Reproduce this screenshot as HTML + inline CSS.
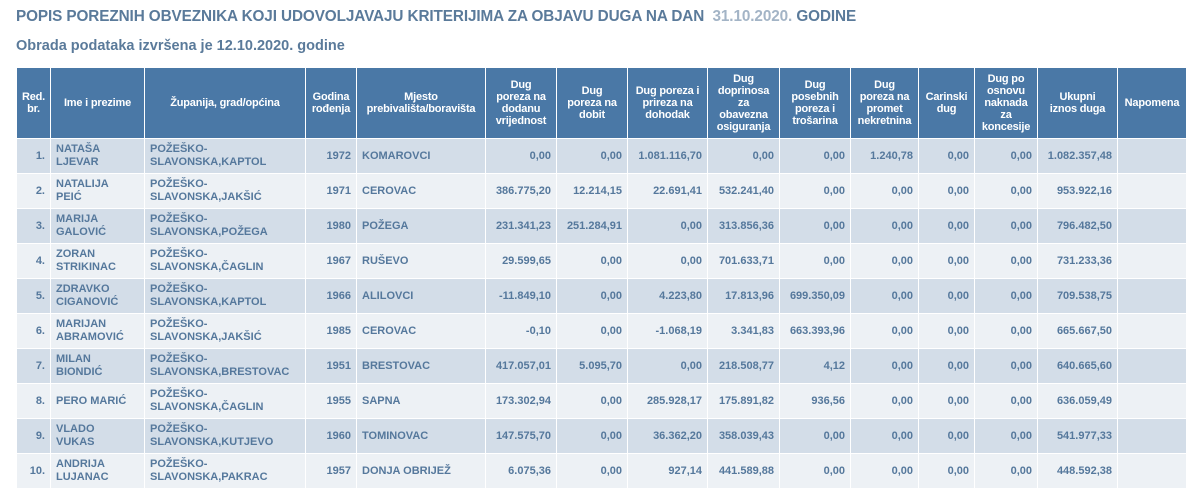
<!DOCTYPE html>
<html><head><meta charset="utf-8"><style>
body{margin:0;width:1200px;height:489px;overflow:hidden;background:#fff;font-family:"Liberation Sans",Arial,sans-serif;}
.t1{position:absolute;left:16px;top:8px;font-size:15.3px;font-weight:bold;color:#5a7a9a;white-space:nowrap;letter-spacing:-0.1px}
.t1 span{color:#a3b4c6}
.t2{position:absolute;left:16px;top:38px;font-size:14.5px;font-weight:bold;color:#5a7a9a;white-space:nowrap}
table{position:absolute;left:16px;top:67px;border-collapse:collapse;table-layout:fixed;width:1170px}
th{background:#4a78a6;color:#fff;font-size:11px;font-weight:bold;height:70px;border:1px solid #fff;padding:0 1px;line-height:12px;text-align:center;white-space:nowrap;letter-spacing:-0.2px}
td{font-size:11px;color:#55789c;font-weight:bold;height:34px;border:1px solid #fff;padding:0 5px;line-height:13px;white-space:nowrap}
tr.o td{background:#d3dde8}tr.e td{background:#edf1f5}
.r{text-align:right}
</style></head><body>
<div class="t1">POPIS POREZNIH OBVEZNIKA KOJI UDOVOLJAVAJU KRITERIJIMA ZA OBJAVU DUGA NA DAN &nbsp;<span>31.10.2020.</span> GODINE</div>
<div class="t2">Obrada podataka izvršena je 12.10.2020. godine</div>
<table>
<colgroup><col style="width:34px"><col style="width:94px"><col style="width:161px"><col style="width:51px"><col style="width:129px"><col style="width:71px"><col style="width:71px"><col style="width:80px"><col style="width:72px"><col style="width:71px"><col style="width:68px"><col style="width:56px"><col style="width:63px"><col style="width:80px"><col style="width:69px"></colgroup>
<tr><th>Red.<br>br.</th><th>Ime i prezime</th><th>Županija, grad/općina</th><th>Godina<br>rođenja</th><th>Mjesto<br>prebivališta/boravišta</th><th>Dug<br>poreza na<br>dodanu<br>vrijednost</th><th>Dug<br>poreza na<br>dobit</th><th>Dug poreza i<br>prireza na<br>dohodak</th><th>Dug<br>doprinosa<br>za<br>obavezna<br>osiguranja</th><th>Dug<br>posebnih<br>poreza i<br>trošarina</th><th>Dug<br>poreza na<br>promet<br>nekretnina</th><th>Carinski<br>dug</th><th>Dug po<br>osnovu<br>naknada<br>za<br>koncesije</th><th>Ukupni<br>iznos duga</th><th>Napomena</th></tr>
<tr class="o"><td class="r">1.</td><td>NATAŠA<br>LJEVAR</td><td>POŽEŠKO-<br>SLAVONSKA,KAPTOL</td><td class="r">1972</td><td>KOMAROVCI</td><td class="r">0,00</td><td class="r">0,00</td><td class="r">1.081.116,70</td><td class="r">0,00</td><td class="r">0,00</td><td class="r">1.240,78</td><td class="r">0,00</td><td class="r">0,00</td><td class="r">1.082.357,48</td><td></td></tr>
<tr class="e"><td class="r">2.</td><td>NATALIJA<br>PEIĆ</td><td>POŽEŠKO-<br>SLAVONSKA,JAKŠIĆ</td><td class="r">1971</td><td>CEROVAC</td><td class="r">386.775,20</td><td class="r">12.214,15</td><td class="r">22.691,41</td><td class="r">532.241,40</td><td class="r">0,00</td><td class="r">0,00</td><td class="r">0,00</td><td class="r">0,00</td><td class="r">953.922,16</td><td></td></tr>
<tr class="o"><td class="r">3.</td><td>MARIJA<br>GALOVIĆ</td><td>POŽEŠKO-<br>SLAVONSKA,POŽEGA</td><td class="r">1980</td><td>POŽEGA</td><td class="r">231.341,23</td><td class="r">251.284,91</td><td class="r">0,00</td><td class="r">313.856,36</td><td class="r">0,00</td><td class="r">0,00</td><td class="r">0,00</td><td class="r">0,00</td><td class="r">796.482,50</td><td></td></tr>
<tr class="e"><td class="r">4.</td><td>ZORAN<br>STRIKINAC</td><td>POŽEŠKO-<br>SLAVONSKA,ČAGLIN</td><td class="r">1967</td><td>RUŠEVO</td><td class="r">29.599,65</td><td class="r">0,00</td><td class="r">0,00</td><td class="r">701.633,71</td><td class="r">0,00</td><td class="r">0,00</td><td class="r">0,00</td><td class="r">0,00</td><td class="r">731.233,36</td><td></td></tr>
<tr class="o"><td class="r">5.</td><td>ZDRAVKO<br>CIGANOVIĆ</td><td>POŽEŠKO-<br>SLAVONSKA,KAPTOL</td><td class="r">1966</td><td>ALILOVCI</td><td class="r">-11.849,10</td><td class="r">0,00</td><td class="r">4.223,80</td><td class="r">17.813,96</td><td class="r">699.350,09</td><td class="r">0,00</td><td class="r">0,00</td><td class="r">0,00</td><td class="r">709.538,75</td><td></td></tr>
<tr class="e"><td class="r">6.</td><td>MARIJAN<br>ABRAMOVIĆ</td><td>POŽEŠKO-<br>SLAVONSKA,JAKŠIĆ</td><td class="r">1985</td><td>CEROVAC</td><td class="r">-0,10</td><td class="r">0,00</td><td class="r">-1.068,19</td><td class="r">3.341,83</td><td class="r">663.393,96</td><td class="r">0,00</td><td class="r">0,00</td><td class="r">0,00</td><td class="r">665.667,50</td><td></td></tr>
<tr class="o"><td class="r">7.</td><td>MILAN<br>BIONDIĆ</td><td>POŽEŠKO-<br>SLAVONSKA,BRESTOVAC</td><td class="r">1951</td><td>BRESTOVAC</td><td class="r">417.057,01</td><td class="r">5.095,70</td><td class="r">0,00</td><td class="r">218.508,77</td><td class="r">4,12</td><td class="r">0,00</td><td class="r">0,00</td><td class="r">0,00</td><td class="r">640.665,60</td><td></td></tr>
<tr class="e"><td class="r">8.</td><td>PERO MARIĆ</td><td>POŽEŠKO-<br>SLAVONSKA,ČAGLIN</td><td class="r">1955</td><td>SAPNA</td><td class="r">173.302,94</td><td class="r">0,00</td><td class="r">285.928,17</td><td class="r">175.891,82</td><td class="r">936,56</td><td class="r">0,00</td><td class="r">0,00</td><td class="r">0,00</td><td class="r">636.059,49</td><td></td></tr>
<tr class="o"><td class="r">9.</td><td>VLADO<br>VUKAS</td><td>POŽEŠKO-<br>SLAVONSKA,KUTJEVO</td><td class="r">1960</td><td>TOMINOVAC</td><td class="r">147.575,70</td><td class="r">0,00</td><td class="r">36.362,20</td><td class="r">358.039,43</td><td class="r">0,00</td><td class="r">0,00</td><td class="r">0,00</td><td class="r">0,00</td><td class="r">541.977,33</td><td></td></tr>
<tr class="e"><td class="r">10.</td><td>ANDRIJA<br>LUJANAC</td><td>POŽEŠKO-<br>SLAVONSKA,PAKRAC</td><td class="r">1957</td><td>DONJA OBRIJEŽ</td><td class="r">6.075,36</td><td class="r">0,00</td><td class="r">927,14</td><td class="r">441.589,88</td><td class="r">0,00</td><td class="r">0,00</td><td class="r">0,00</td><td class="r">0,00</td><td class="r">448.592,38</td><td></td></tr>
</table>
</body></html>
